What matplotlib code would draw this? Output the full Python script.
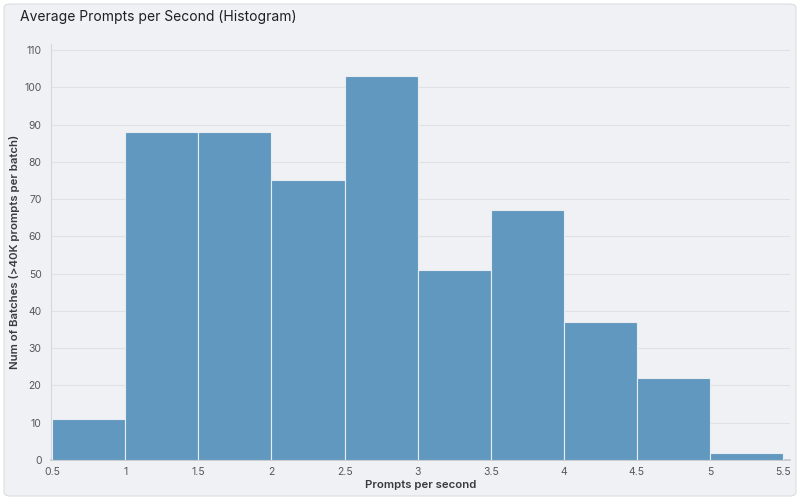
import numpy as np
import matplotlib.pyplot as plt
from matplotlib.patches import FancyBboxPatch

# histogram bins (prompts per second) and counts
bin_edges = [0.5, 1.0, 1.5, 2.0, 2.5, 3.0, 3.5, 4.0, 4.5, 5.0, 5.5]
counts = [11, 88, 88, 75, 103, 51, 67, 37, 22, 2]
x_ticks = [0.5, 1, 1.5, 2, 2.5, 3, 3.5, 4, 4.5, 5, 5.5]
x_tick_labels = ['0.5', '1', '1.5', '2', '2.5', '3', '3.5', '4', '4.5', '5', '5.5']
y_ticks = [0, 10, 20, 30, 40, 50, 60, 70, 80, 90, 100, 110]

plt.rcParams['font.family'] = ['Inter', 'DejaVu Sans']

fig = plt.figure(figsize=(8, 5), dpi=100)
fig.patch.set_facecolor('white')

# rounded panel behind everything
panel = FancyBboxPatch((0.005, 0.008), 0.99, 0.984,
                       boxstyle='round,pad=0,rounding_size=0.008',
                       transform=fig.transFigure, facecolor='#f0f1f5',
                       edgecolor='#dcdde3', linewidth=0.8, zorder=-10)
fig.patches.append(panel)

fig.text(0.025, 0.965, 'Average Prompts per Second (Histogram)',
         fontsize=10, color='#1f1f24', va='center', ha='left')

ax = fig.add_axes([0.064, 0.080, 0.924, 0.832])
ax.set_facecolor('none')

widths = np.diff(bin_edges)
ax.bar(bin_edges[:-1], counts, width=widths, align='edge',
       color='#6198bf', edgecolor='#e8edf3', linewidth=0.8, zorder=3)

ax.set_xlim(0.493, 5.55)
ax.set_ylim(0, 111.6)
ax.set_xticks(x_ticks)
ax.set_xticklabels(x_tick_labels)
ax.set_yticks(y_ticks)

ax.grid(axis='y', color='#e0e1e6', linewidth=0.8, zorder=0)
ax.set_axisbelow(True)
ax.tick_params(axis='both', length=0, labelsize=7.5, colors='#55575e', pad=7)
ax.tick_params(axis='x', pad=5)

for side in ['top', 'right']:
    ax.spines[side].set_visible(False)
ax.spines['left'].set_color('#d6d7dc')
ax.spines['bottom'].set_color('#c4c5cb')
ax.spines['left'].set_linewidth(0.8)
ax.spines['bottom'].set_linewidth(1.2)

ax.set_xlabel('Prompts per second', fontsize=8.2, color='#3a3b40',
              fontweight='semibold')
ax.set_ylabel('Num of Batches (>40K prompts per batch)', fontsize=8.2,
              color='#3a3b40', fontweight='semibold')
ax.xaxis.set_label_coords(0.5, -0.048)
ax.yaxis.set_label_coords(-0.042, 0.5)

fig.savefig('out.png', dpi=100)
